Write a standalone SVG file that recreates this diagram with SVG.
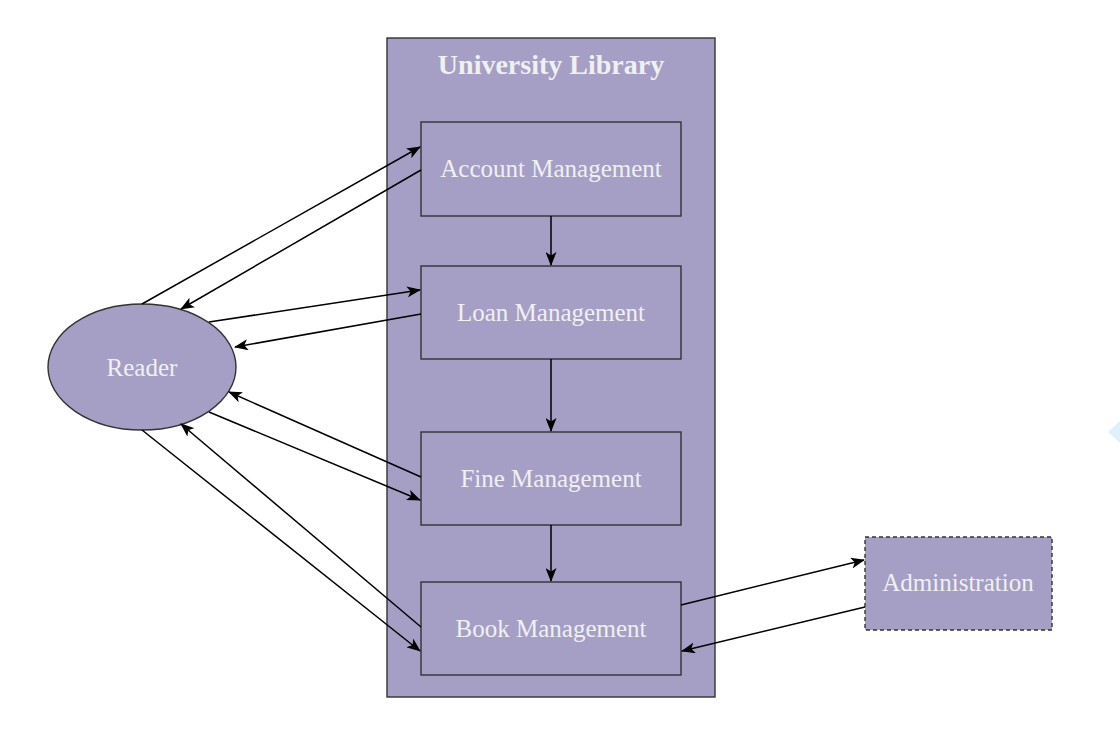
<svg xmlns="http://www.w3.org/2000/svg" width="1120" height="735" viewBox="0 0 1120 735">
<style>
.box{fill:#a59fc6;stroke:#333333;stroke-width:1.4}
.lbl{font-family:"Liberation Serif","Times New Roman",serif;font-size:25px;fill:#f0f0f0;text-anchor:middle;dominant-baseline:central}
.ttl{font-family:"Liberation Serif","Times New Roman",serif;font-size:28px;font-weight:bold;fill:#f0f0f0;text-anchor:middle;dominant-baseline:central}
.edge{fill:none;stroke:#000;stroke-width:1.5;marker-end:url(#ah)}
</style>
<defs>
<marker id="ah" viewBox="0 0 14 11" refX="13" refY="5.5" markerWidth="14" markerHeight="11" markerUnits="userSpaceOnUse" orient="auto">
<path d="M0,0 L14,5.5 L0,11 L3.5,5.5 Z" fill="#000"/>
</marker>
</defs>
<rect width="1120" height="735" fill="#ffffff"/>
<polygon points="1108,432 1120,421 1120,443" fill="#dff0fb"/>
<g id="library">
<rect class="box" x="387" y="38" width="328" height="659"/>
<text class="ttl" x="551" y="64">University Library</text>
</g>
<g id="account">
<rect class="box" x="421" y="122" width="260" height="94"/>
<text class="lbl" x="551" y="168">Account Management</text>
</g>
<g id="loan">
<rect class="box" x="421" y="266" width="260" height="93"/>
<text class="lbl" x="551" y="312">Loan Management</text>
</g>
<g id="fine">
<rect class="box" x="421" y="432" width="260" height="93"/>
<text class="lbl" x="551" y="478">Fine Management</text>
</g>
<g id="book">
<rect class="box" x="421" y="582" width="260" height="93"/>
<text class="lbl" x="551" y="628">Book Management</text>
</g>
<g id="reader">
<ellipse class="box" cx="142" cy="367" rx="94" ry="63"/>
<text class="lbl" x="142" y="367">Reader</text>
</g>
<g id="admin">
<rect class="box" x="865" y="537" width="187" height="93" stroke-dasharray="4,3"/>
<text class="lbl" x="958" y="582">Administration</text>
</g>
<g id="connectors">
<line class="edge" x1="142" y1="304" x2="420" y2="147"/>
<line class="edge" x1="421" y1="170" x2="181" y2="309"/>
<line class="edge" x1="209" y1="322" x2="420" y2="290"/>
<line class="edge" x1="421" y1="314" x2="235" y2="347"/>
<line class="edge" x1="421" y1="477" x2="229" y2="392"/>
<line class="edge" x1="209" y1="412" x2="420" y2="500"/>
<line class="edge" x1="421" y1="627" x2="181" y2="424"/>
<line class="edge" x1="142" y1="430" x2="420" y2="651"/>
<line class="edge" x1="551" y1="216" x2="551" y2="265"/>
<line class="edge" x1="551" y1="359" x2="551" y2="431"/>
<line class="edge" x1="551" y1="525" x2="551" y2="581"/>
<line class="edge" x1="681" y1="605" x2="864" y2="560"/>
<line class="edge" x1="865" y1="607" x2="682" y2="651"/>
</g>
</svg>
